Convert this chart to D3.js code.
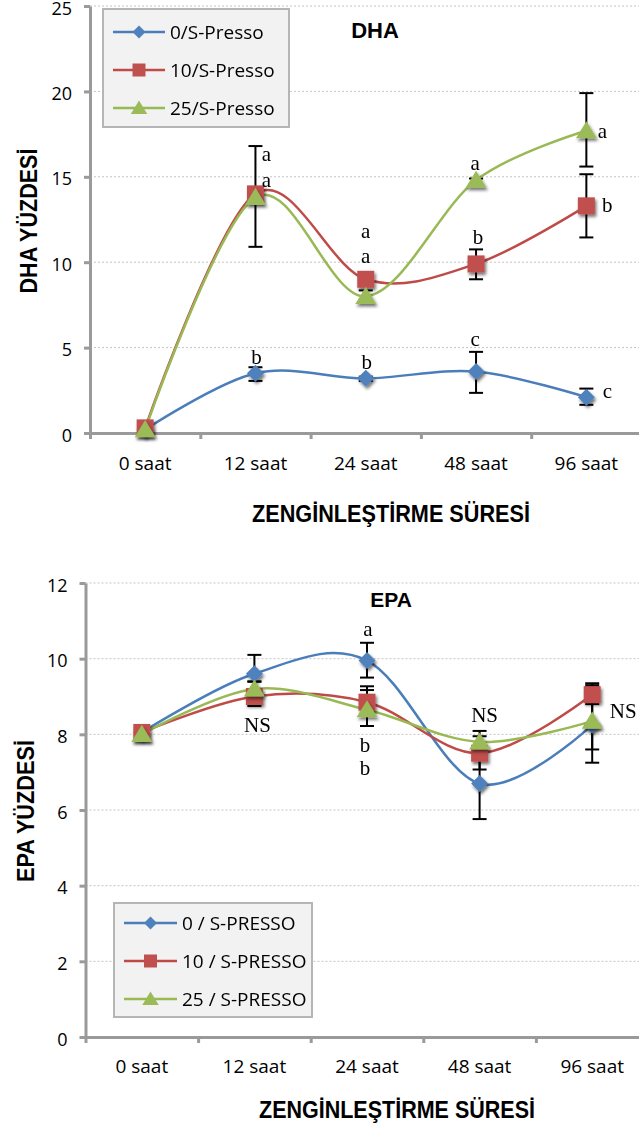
<!DOCTYPE html>
<html>
<head>
<meta charset="utf-8">
<script src="https://cdn.jsdelivr.net/npm/d3@7"></script>
<style>
  body { margin: 0; background: #fff; }
  svg { display: block; }
</style>
</head>
<body>
<div id="chart"></div>
<script>
const categories = ['0 saat', '12 saat', '24 saat', '48 saat', '96 saat'];

// DHA (top chart)
const dhaNames = ['0/S-Presso', '10/S-Presso', '25/S-Presso'];
const dhaTicks = [0, 5, 10, 15, 20, 25];
const dha0 = [0.2, 3.5, 3.2, 3.6, 2.1];
const dha10 = [0.3, 14.0, 9.0, 9.9, 13.3];
const dha25 = [0.2, 13.8, 8.0, 14.8, 17.7];
const dha0Err = [[0.1, 0.3], [3.05, 3.85], [3.05, 3.3], [2.35, 4.75], [1.65, 2.6]];
const dha10Err = [[0.1, 0.4], [10.9, 16.8], [8.8, 9.2], [9.0, 10.75], [11.45, 15.15]];
const dha25Err = [[0.1, 0.3], [13.6, 14.0], [7.8, 8.35], [14.6, 14.9], [15.6, 19.9]];
// [category index, value, letter]
const dhaLetters = [
  [1, 16.2, 'a'], [1, 14.7, 'a'], [1, 4.35, 'b'],
  [2, 11.7, 'a'], [2, 10.25, 'a'], [2, 4.05, 'b'],
  [3, 15.7, 'a'], [3, 11.35, 'b'], [3, 5.4, 'c'],
  [4, 17.55, 'a'], [4, 13.2, 'b'], [4, 2.35, 'c'],
];

// EPA (bottom chart)
const epaNames = ['0 / S-PRESSO', '10 / S-PRESSO', '25 / S-PRESSO'];
const epaTicks = [0, 2, 4, 6, 8, 10, 12];
const epa0 = [8.05, 9.6, 9.95, 6.7, 8.25];
const epa10 = [8.05, 9.0, 8.85, 7.5, 9.05];
const epa25 = [8.0, 9.2, 8.65, 7.8, 8.35];
const epa0Err = [[7.95, 8.15], [9.1, 10.1], [9.5, 10.42], [5.76, 7.68], [7.25, 9.35]];
const epa10Err = [[7.9, 8.15], [8.75, 9.39], [8.55, 9.27], [7.07, 7.95], [8.8, 9.3]];
const epa25Err = [[7.9, 8.1], [8.9, 9.4], [8.22, 9.17], [7.55, 8.09], [7.6, 9.25]];
const epaLetters = [
  [1, 8.2, 'NS'], [2, 10.72, 'a'], [2, 7.66, 'b'], [2, 7.05, 'b'],
  [3, 8.45, 'NS'], [4, 8.55, 'NS'],
];

const width = 639;
const height = 1131;
const axisColor = '#9a9a9a';
const sansFont = "'Open Sans', 'Liberation Sans', sans-serif";
const boldFont = "'Liberation Sans', Arial, sans-serif";
const serifFont = "'Liberation Serif', 'Times New Roman', serif";

const lineColors = ['#4a7ebb', '#be4b48', '#98b954'];
const markerColors = ['#4f81bd', '#c0504d', '#9bbb59'];
const shapes = ['diamond', 'square', 'triangle'];

const svg = d3
  .select('#chart')
  .append('svg')
  .attr('width', width)
  .attr('height', height);

const defs = svg.append('defs');
const shadow = defs
  .append('filter')
  .attr('id', 'shadow')
  .attr('x', '-50%')
  .attr('y', '-50%')
  .attr('width', '200%')
  .attr('height', '200%');
shadow
  .append('feDropShadow')
  .attr('dx', 1.5)
  .attr('dy', 2.5)
  .attr('stdDeviation', 1.6)
  .attr('flood-color', '#000')
  .attr('flood-opacity', 0.55);

const markerPath = (shape, s) => {
  if (shape === 'diamond') return `M0,${-s}L${s},0L0,${s}L${-s},0Z`;
  if (shape === 'square') return `M${-s},${-s}H${s}V${s}H${-s}Z`;
  return `M0,${-s}L${s * 1.1},${s * 0.8}H${-s * 1.1}Z`;
};
const markerSize = { diamond: 8.5, square: 8.5, triangle: 9.5 };

const drawChart = (g, cfg) => {
  const xEdge = d3
    .scaleLinear()
    .domain([0, categories.length])
    .range([cfg.axisX, cfg.axisX + cfg.band * categories.length]);
  const cx = (i) => xEdge(i + 0.5);

  const y = d3
    .scaleLinear()
    .domain([0, d3.max(cfg.yTicks)])
    .range([cfg.bottom, cfg.top]);

  // dotted gridlines
  g.append('g')
    .selectAll('line')
    .data(cfg.yTicks.filter((d) => d > 0))
    .join('line')
    .attr('x1', cfg.axisX)
    .attr('x2', width)
    .attr('y1', (d) => y(d))
    .attr('y2', (d) => y(d))
    .attr('stroke', '#c4c4c4')
    .attr('stroke-dasharray', '2,2');

  // y axis
  const yAxis = g
    .append('g')
    .attr('transform', `translate(${cfg.axisX},0)`)
    .call(
      d3
        .axisLeft(y)
        .tickValues(cfg.yTicks)
        .tickSize(6)
        .tickSizeOuter(0)
        .tickPadding(cfg.tickPad),
    );
  yAxis.select('.domain').attr('stroke', axisColor).attr('stroke-width', 3);
  yAxis.selectAll('.tick line').attr('stroke', axisColor).attr('stroke-width', 3);
  yAxis
    .selectAll('.tick text')
    .attr('font-family', sansFont)
    .attr('font-size', 18)
    .attr('fill', '#000')
    .attr('dy', '0.45em');

  // x axis (ticks sit between the categories)
  const xAxis = g
    .append('g')
    .attr('transform', `translate(0,${cfg.bottom})`)
    .call(
      d3
        .axisBottom(xEdge)
        .tickValues(d3.range(categories.length + 1))
        .tickSize(6)
        .tickSizeOuter(0)
        .tickFormat(''),
    );
  xAxis.select('.domain').attr('stroke', axisColor).attr('stroke-width', 3);
  xAxis.selectAll('.tick line').attr('stroke', axisColor).attr('stroke-width', 3);

  g.append('g')
    .selectAll('text')
    .data(categories)
    .join('text')
    .attr('x', (d, i) => cx(i))
    .attr('y', cfg.xLabelY)
    .attr('text-anchor', 'middle')
    .attr('font-family', sansFont)
    .attr('font-size', 19)
    .text((d) => d);

  // axis titles
  g.append('text')
    .attr('x', cfg.xTitle[0])
    .attr('y', cfg.xTitle[1])
    .attr('text-anchor', 'middle')
    .attr('font-family', boldFont)
    .attr('font-weight', 'bold')
    .attr('font-size', 23)
    .attr('textLength', cfg.xTitle[2])
    .attr('lengthAdjust', 'spacingAndGlyphs')
    .text('ZENGİNLEŞTİRME SÜRESİ');

  g.append('text')
    .attr('transform', `translate(${cfg.yTitle[0]},${cfg.yTitle[1]}) rotate(-90)`)
    .attr('text-anchor', 'middle')
    .attr('font-family', boldFont)
    .attr('font-weight', 'bold')
    .attr('font-size', 23)
    .attr('textLength', cfg.yTitle[2])
    .attr('lengthAdjust', 'spacingAndGlyphs')
    .text(cfg.yLabel);

  g.append('text')
    .attr('x', cfg.title[0])
    .attr('y', cfg.title[1])
    .attr('text-anchor', 'middle')
    .attr('font-family', boldFont)
    .attr('font-weight', 'bold')
    .attr('font-size', cfg.title[2])
    .text(cfg.titleText);

  // error bars
  const capW = 7;
  cfg.errors.forEach((errs) => {
    const eb = g.append('g').attr('stroke', '#000').attr('stroke-width', 2);
    errs.forEach(([lo, hi], i) => {
      eb.append('line')
        .attr('x1', cx(i)).attr('x2', cx(i))
        .attr('y1', y(lo)).attr('y2', y(hi));
      [lo, hi].forEach((v) => {
        eb.append('line')
          .attr('x1', cx(i) - capW).attr('x2', cx(i) + capW)
          .attr('y1', y(v)).attr('y2', y(v));
      });
    });
  });

  // smoothed lines
  const line = d3
    .line()
    .x((d, i) => cx(i))
    .y((d) => y(d))
    .curve(d3.curveCardinal.tension(0));

  cfg.series.forEach((values, s) => {
    g.append('path')
      .datum(values)
      .attr('d', line)
      .attr('fill', 'none')
      .attr('stroke', lineColors[s])
      .attr('stroke-width', 2.5);
  });

  cfg.series.forEach((values, s) => {
    g.append('g')
      .attr('filter', 'url(#shadow)')
      .selectAll('path')
      .data(values)
      .join('path')
      .attr('transform', (d, i) => `translate(${cx(i)},${y(d)})`)
      .attr('d', markerPath(shapes[s], markerSize[shapes[s]]))
      .attr('fill', markerColors[s]);
  });

  // significance letters
  g.append('g')
    .selectAll('text')
    .data(cfg.letters)
    .join('text')
    .attr('x', (d, k) => cx(d[0]) + cfg.letterDx[k])
    .attr('y', (d) => y(d[1]))
    .attr('dominant-baseline', 'middle')
    .attr('text-anchor', 'middle')
    .attr('font-family', serifFont)
    .attr('font-size', 21)
    .text((d) => d[2]);

  // legend
  const lg = cfg.legend;
  g.append('rect')
    .attr('x', lg.x)
    .attr('y', lg.y)
    .attr('width', lg.w)
    .attr('height', lg.h)
    .attr('fill', '#f2f2f2')
    .attr('stroke', '#b5b5b5')
    .attr('stroke-width', 2);

  const rows = g
    .append('g')
    .selectAll('g')
    .data(cfg.names)
    .join('g')
    .attr('transform', (d, i) => `translate(${lg.x + 10},${lg.y + lg.first + i * lg.step})`);
  rows
    .append('line')
    .attr('x1', 0)
    .attr('x2', lg.lineW)
    .attr('stroke', (d, i) => lineColors[i])
    .attr('stroke-width', 2.5);
  rows
    .append('path')
    .attr('transform', `translate(${lg.lineW / 2},0)`)
    .attr('d', (d, i) => markerPath(shapes[i], markerSize[shapes[i]] - 2))
    .attr('fill', (d, i) => markerColors[i]);
  rows
    .append('text')
    .attr('x', lg.lineW + 5)
    .attr('dy', '0.36em')
    .attr('font-family', sansFont)
    .attr('font-size', 19)
    .text((d) => d);
};

drawChart(svg.append('g'), {
  axisX: 90,
  band: 110.3,
  top: 6,
  bottom: 433,
  yTicks: dhaTicks,
  tickPad: 12,
  xLabelY: 470,
  xTitle: [391, 522, 278],
  yTitle: [37, 221, 145],
  yLabel: 'DHA YÜZDESİ',
  title: [375, 38, 22],
  titleText: 'DHA',
  series: [dha0, dha10, dha25],
  errors: [dha0Err, dha10Err, dha25Err],
  letters: dhaLetters,
  letterDx: [11, 11, 1, 0, 0, 1, -1, 2, -1, 16, 21, 21],
  names: dhaNames,
  legend: { x: 103, y: 9, w: 186, h: 118, first: 23, step: 38, lineW: 52 },
});

drawChart(svg.append('g'), {
  axisX: 85.5,
  band: 112.6,
  top: 583,
  bottom: 1037,
  yTicks: epaTicks,
  tickPad: 12,
  xLabelY: 1073,
  xTitle: [397, 1118, 276],
  yTitle: [34, 811, 142],
  yLabel: 'EPA YÜZDESİ',
  title: [391, 607, 21],
  titleText: 'EPA',
  series: [epa0, epa10, epa25],
  errors: [epa0Err, epa10Err, epa25Err],
  letters: epaLetters,
  letterDx: [3, 1, -2, -2, 5, 31],
  names: epaNames,
  legend: { x: 114, y: 903, w: 198, h: 114, first: 20, step: 38, lineW: 53 },
});
</script>
</body>
</html>
